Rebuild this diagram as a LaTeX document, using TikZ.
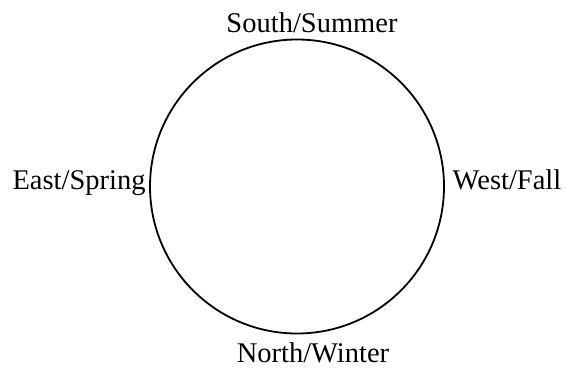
\documentclass[tikz,border=0pt]{standalone}
\usepackage{fontspec}
\setmainfont{Liberation Serif}
\begin{document}
\begin{tikzpicture}[x=1pt,y=-1pt,
  lbl/.style={font=\fontsize{28.5}{31}\selectfont, anchor=base, inner sep=0pt}]
\useasboundingbox (0,0) rectangle (567,367);
\node[draw, line width=1.8pt, circle, minimum size=294pt, inner sep=0pt] (c) at (297,186.5) {};
\node[lbl] (s) at (312,32) {South/Summer};
\node[lbl] (e) at (79,189) {East/Spring};
\node[lbl] (w) at (507,189) {West/Fall};
\node[lbl] (n) at (313,362) {North/Winter};
\end{tikzpicture}
\end{document}
